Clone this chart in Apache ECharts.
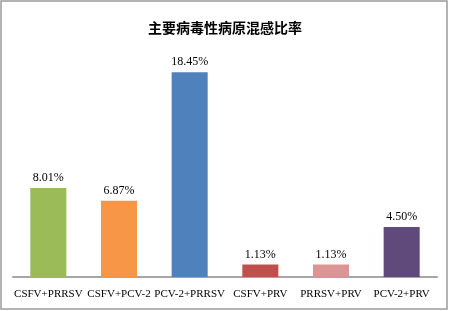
<!DOCTYPE html>
<html lang="zh">
<head>
    <meta charset="UTF-8">
    <title>主要病毒性病原混感比率</title>
    <style>
        *{
            margin: 0;
            padding: 0;
        }
        .main{
            width: 450px;
            height: 311px;
            background: #ffffff;
        }
    </style>
    <script src="https://cdn.jsdelivr.net/npm/echarts@6/dist/echarts.min.js"></script>
</head>
<body>
<div class="main"></div>
<script>
    let categories = ['CSFV+PRRSV', 'CSFV+PCV-2', 'PCV-2+PRRSV', 'CSFV+PRV', 'PRRSV+PRV', 'PCV-2+PRV'];
    let rates = [8.01, 6.87, 18.45, 1.13, 1.13, 4.50];
    let colors = ['#9bbb59', '#f79646', '#4f81bd', '#c0504d', '#d99694', '#604a7b'];

    let main = document.querySelector('.main');
    let chart = echarts.init(main);
    let option = {
        animation: false,
        title: {
            text: '主要病毒性病原混感比率',
            left: 'center',
            top: 16,
            textStyle: {
                fontFamily: 'Noto Sans CJK SC',
                fontSize: 14,
                fontWeight: 'bold',
                color: '#000'
            }
        },
        graphic: [{
            type: 'rect',
            shape: {x: 1, y: 1, width: 446, height: 308},
            style: {fill: 'none', stroke: '#9a9a9a', lineWidth: 1.5}
        }],
        grid: {
            left: 13,
            right: 13,
            top: 55,
            bottom: 34
        },
        xAxis: {
            type: 'category',
            data: categories,
            axisTick: {show: false},
            axisLine: {lineStyle: {color: '#a6a6a6', width: 2}},
            axisLabel: {
                interval: 0,
                margin: 12,
                fontFamily: 'Liberation Serif',
                fontSize: 11,
                color: '#000'
            }
        },
        yAxis: {
            type: 'value',
            min: 0,
            max: 20,
            show: false,
            splitLine: {show: false}
        },
        series: [{
            type: 'bar',
            barWidth: '51%',
            data: rates.map((v, i) => ({value: v, itemStyle: {color: colors[i]}})),
            label: {
                show: true,
                position: 'top',
                distance: 4,
                fontFamily: 'Liberation Serif',
                fontSize: 12,
                color: '#000',
                formatter: p => p.value.toFixed(2) + '%'
            }
        }]
    };
    chart.setOption(option);
</script>
</body>
</html>
